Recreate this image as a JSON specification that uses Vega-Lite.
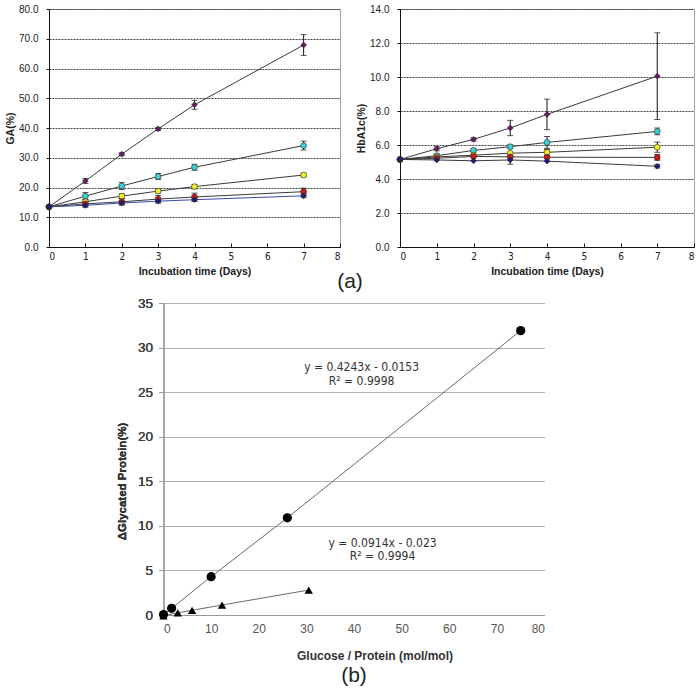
{
  "$schema": "https://vega.github.io/schema/vega-lite/v6.json",
  "padding": {"left": 5, "top": 3, "right": 0, "bottom": 0},
  "config": {
    "font": "Liberation Sans",
    "view": {"stroke": null},
    "style": {
      "tx": {"values": [0,1,2,3,4,5,6,7,8], "labelOverlap": false, "grid": false, "domainColor": "#111", "tickColor": "#111", "tickSize": -4, "labelPadding": 8, "labelFont": "DejaVu Sans Condensed, Liberation Sans", "labelFontSize": 10, "labelColor": "#222", "titleFontSize": 10.5, "titleFontWeight": "bold", "titleColor": "#222", "titlePadding": 5},
      "tyga": {"values": [0,10,20,30,40,50,60,70,80], "labelOverlap": false, "format": ".1f", "grid": true, "gridColor": "#444", "gridDash": [2, 1], "domainColor": "#111", "tickColor": "#111", "tickSize": 3, "labelPadding": 8, "labelFontSize": 10, "labelColor": "#222", "titleFontSize": 10.5, "titleFontWeight": "bold", "titleColor": "#222", "titlePadding": 3},
      "tyhb": {"values": [0,2,4,6,8,10,12,14], "labelOverlap": false, "format": ".1f", "grid": true, "gridColor": "#444", "gridDash": [2, 1], "domainColor": "#111", "tickColor": "#111", "tickSize": 3, "labelPadding": 8, "labelFontSize": 10, "labelColor": "#222", "titleFontSize": 10.5, "titleFontWeight": "bold", "titleColor": "#222", "titlePadding": 3},
      "bx": {"values": [0,10,20,30,40,50,60,70,80], "labelOverlap": false, "grid": false, "domainColor": "#9a9a9a", "ticks": false, "labelPadding": 8, "labelFontSize": 12, "labelColor": "#555", "titleFontSize": 12, "titleFontWeight": "bold", "titleColor": "#333", "titlePadding": 16, "titleX": 211},
      "by": {"values": [0,5,10,15,20,25,30,35], "labelOverlap": false, "grid": true, "gridColor": "#b4b4b4", "gridWidth": 1.2, "domainColor": "#9a9a9a", "tickColor": "#9a9a9a", "tickSize": 5, "labelPadding": 6, "labelFontSize": 13.5, "labelColor": "#444", "titleFontSize": 11.5, "titleFontWeight": "bold", "titleColor": "#333", "titlePadding": 10, "titleY": 178}
    }
  },
  "resolve": {"scale": {"color": "independent", "fill": "independent", "shape": "independent", "size": "independent"}},
  "datasets": {
    "ga": [
      {"day": 0, "s": "P", "v": 13.5}, {"day": 0, "s": "C", "v": 13.5}, {"day": 0, "s": "Y", "v": 13.5}, {"day": 0, "s": "R", "v": 13.5}, {"day": 0, "s": "B", "v": 13.5},
      {"day": 1, "s": "P", "v": 22.2, "lo": 21.4, "hi": 23.0}, {"day": 2, "s": "P", "v": 31.2, "lo": 30.7, "hi": 31.7}, {"day": 3, "s": "P", "v": 39.7, "lo": 39.2, "hi": 40.2}, {"day": 4, "s": "P", "v": 47.8, "lo": 46.3, "hi": 49.3}, {"day": 7, "s": "P", "v": 67.9, "lo": 64.4, "hi": 71.4},
      {"day": 1, "s": "C", "v": 17.1, "lo": 15.9, "hi": 18.3}, {"day": 2, "s": "C", "v": 20.5, "lo": 19.3, "hi": 21.7}, {"day": 3, "s": "C", "v": 23.7, "lo": 22.7, "hi": 24.7}, {"day": 4, "s": "C", "v": 26.8, "lo": 25.8, "hi": 27.8}, {"day": 7, "s": "C", "v": 34.1, "lo": 32.6, "hi": 35.6},
      {"day": 1, "s": "Y", "v": 15.2, "lo": 14.4, "hi": 16.0}, {"day": 2, "s": "Y", "v": 17.1, "lo": 16.3, "hi": 17.9}, {"day": 3, "s": "Y", "v": 18.8, "lo": 18.1, "hi": 19.5}, {"day": 4, "s": "Y", "v": 20.3, "lo": 19.6, "hi": 21.0}, {"day": 7, "s": "Y", "v": 24.2, "lo": 23.6, "hi": 24.8},
      {"day": 1, "s": "R", "v": 14.5, "lo": 13.5, "hi": 15.5}, {"day": 2, "s": "R", "v": 15.2, "lo": 14.1, "hi": 16.3}, {"day": 3, "s": "R", "v": 16.1, "lo": 14.9, "hi": 17.3}, {"day": 4, "s": "R", "v": 16.8, "lo": 15.5, "hi": 18.1}, {"day": 7, "s": "R", "v": 18.6, "lo": 17.4, "hi": 19.8},
      {"day": 1, "s": "B", "v": 14.0, "lo": 13.4, "hi": 14.6}, {"day": 2, "s": "B", "v": 14.8, "lo": 14.2, "hi": 15.4}, {"day": 3, "s": "B", "v": 15.4, "lo": 14.8, "hi": 16.0}, {"day": 4, "s": "B", "v": 15.9, "lo": 15.3, "hi": 16.5}, {"day": 7, "s": "B", "v": 17.2, "lo": 16.6, "hi": 17.8}
    ],
    "hb": [
      {"day": 0, "s": "P", "v": 5.15}, {"day": 0, "s": "C", "v": 5.15}, {"day": 0, "s": "Y", "v": 5.15}, {"day": 0, "s": "R", "v": 5.15}, {"day": 0, "s": "B", "v": 5.15},
      {"day": 1, "s": "P", "v": 5.78, "lo": 5.66, "hi": 5.9}, {"day": 2, "s": "P", "v": 6.33, "lo": 6.23, "hi": 6.43}, {"day": 3, "s": "P", "v": 7.0, "lo": 6.55, "hi": 7.45}, {"day": 4, "s": "P", "v": 7.8, "lo": 6.9, "hi": 8.7}, {"day": 7, "s": "P", "v": 10.05, "lo": 7.5, "hi": 12.6},
      {"day": 1, "s": "C", "v": 5.37, "lo": 5.27, "hi": 5.47}, {"day": 2, "s": "C", "v": 5.68, "lo": 5.58, "hi": 5.78}, {"day": 3, "s": "C", "v": 5.9, "lo": 5.8, "hi": 6.0}, {"day": 4, "s": "C", "v": 6.15, "lo": 5.8, "hi": 6.5}, {"day": 7, "s": "C", "v": 6.8, "lo": 6.6, "hi": 7.0},
      {"day": 1, "s": "Y", "v": 5.3}, {"day": 2, "s": "Y", "v": 5.4}, {"day": 3, "s": "Y", "v": 5.52}, {"day": 4, "s": "Y", "v": 5.57, "lo": 5.4, "hi": 5.74}, {"day": 7, "s": "Y", "v": 5.87, "lo": 5.57, "hi": 6.17},
      {"day": 1, "s": "R", "v": 5.22}, {"day": 2, "s": "R", "v": 5.33}, {"day": 3, "s": "R", "v": 5.3}, {"day": 4, "s": "R", "v": 5.28}, {"day": 7, "s": "R", "v": 5.27, "lo": 5.1, "hi": 5.44},
      {"day": 1, "s": "B", "v": 5.12}, {"day": 2, "s": "B", "v": 5.07}, {"day": 3, "s": "B", "v": 5.12, "lo": 4.87, "hi": 5.37}, {"day": 4, "s": "B", "v": 5.05}, {"day": 7, "s": "B", "v": 4.75, "lo": 4.65, "hi": 4.85}
    ],
    "bp": [
      {"x": 0, "y": 0.05, "k": "circle"}, {"x": 1.7, "y": 0.75, "k": "circle"}, {"x": 10, "y": 4.3, "k": "circle"}, {"x": 26, "y": 10.9, "k": "circle"}, {"x": 75, "y": 31.9, "k": "circle"},
      {"x": 0, "y": -0.1, "k": "triangle"}, {"x": 3, "y": 0.25, "k": "triangle"}, {"x": 6, "y": 0.53, "k": "triangle"}, {"x": 12.3, "y": 1.12, "k": "triangle"}, {"x": 30.5, "y": 2.8, "k": "triangle"}
    ],
    "eq": [
      {"x": 41.6, "y": 27.8, "t": "y = 0.4243x - 0.0153"},
      {"x": 41.6, "y": 26.3, "t": "R² = 0.9998"},
      {"x": 46.0, "y": 8.1, "t": "y = 0.0914x - 0.023"},
      {"x": 46.0, "y": 6.6, "t": "R² = 0.9994"}
    ]
  },
  "vconcat": [
    {
      "title": {"text": "(a)", "orient": "bottom", "anchor": "middle", "fontSize": 21, "fontWeight": "normal", "color": "#222", "offset": -6, "font": "Liberation Sans"},
      "spacing": 15,
      "hconcat": [
        {
          "width": 291, "height": 238,
          "view": {"stroke": "#a0a0a0", "strokeWidth": 1},
          "data": {"name": "ga"},
          "layer": [
            {
              "mark": {"type": "line", "strokeWidth": 1},
              "encoding": {
                "x": {"field": "day", "type": "quantitative", "title": "Incubation time (Days)", "scale": {"domain": [0, 8], "nice": false}, "axis": {"style": "tx"}},
                "y": {"field": "v", "type": "quantitative", "title": "GA(%)", "scale": {"domain": [0, 80], "nice": false}, "axis": {"style": "tyga"}},
                "color": {"field": "s", "type": "nominal", "legend": null, "scale": {"domain": ["P","C","Y","R","B"], "range": ["#3a3a3a","#3a3a3a","#3a3a3a","#3a3a3a","#3b48a8"]}}
              }
            },
            {
              "mark": {"type": "rule", "color": "#111", "strokeWidth": 1},
              "transform": [{"filter": "isValid(datum.lo)"}],
              "encoding": {
                "x": {"field": "day", "type": "quantitative", "title": "Incubation time (Days)", "axis": {"style": "tx"}},
                "y": {"field": "lo", "type": "quantitative", "title": "GA(%)", "axis": {"style": "tyga"}},
                "y2": {"field": "hi"}
              }
            },
            {
              "mark": {"type": "tick", "orient": "horizontal", "color": "#111", "thickness": 1, "size": 6},
              "transform": [{"filter": "isValid(datum.lo)"}, {"fold": ["lo", "hi"], "as": ["end", "ev"]}],
              "encoding": {
                "x": {"field": "day", "type": "quantitative", "title": "Incubation time (Days)", "axis": {"style": "tx"}},
                "y": {"field": "ev", "type": "quantitative", "title": "GA(%)", "axis": {"style": "tyga"}}
              }
            },
            {
              "mark": {"type": "point", "filled": true, "stroke": "#222", "strokeWidth": 0.6, "size": 34, "opacity": 1},
              "encoding": {
                "x": {"field": "day", "type": "quantitative", "title": "Incubation time (Days)", "axis": {"style": "tx"}},
                "y": {"field": "v", "type": "quantitative", "title": "GA(%)", "axis": {"style": "tyga"}},
                "fill": {"field": "s", "type": "nominal", "legend": null, "scale": {"domain": ["P","C","Y","R","B"], "range": ["#6b1a6b","#3fd0d6","#f4f02a","#cc1a1a","#1a1f7a"]}},
                "shape": {"field": "s", "type": "nominal", "legend": null, "scale": {"domain": ["P","C","Y","R","B"], "range": ["diamond","circle","circle","circle","diamond"]}}
              }
            }
          ]
        },
        {
          "width": 294, "height": 238,
          "view": {"stroke": "#a0a0a0", "strokeWidth": 1},
          "data": {"name": "hb"},
          "layer": [
            {
              "mark": {"type": "line", "strokeWidth": 1, "color": "#3a3a3a"},
              "encoding": {
                "x": {"field": "day", "type": "quantitative", "title": "Incubation time (Days)", "scale": {"domain": [0, 8], "nice": false}, "axis": {"style": "tx"}},
                "y": {"field": "v", "type": "quantitative", "title": "HbA1c(%)", "scale": {"domain": [0, 14], "nice": false}, "axis": {"style": "tyhb"}},
                "detail": {"field": "s", "type": "nominal"}
              }
            },
            {
              "mark": {"type": "rule", "color": "#111", "strokeWidth": 1},
              "transform": [{"filter": "isValid(datum.lo)"}],
              "encoding": {
                "x": {"field": "day", "type": "quantitative", "title": "Incubation time (Days)", "axis": {"style": "tx"}},
                "y": {"field": "lo", "type": "quantitative", "title": "HbA1c(%)", "axis": {"style": "tyhb"}},
                "y2": {"field": "hi"}
              }
            },
            {
              "mark": {"type": "tick", "orient": "horizontal", "color": "#111", "thickness": 1, "size": 6},
              "transform": [{"filter": "isValid(datum.lo)"}, {"fold": ["lo", "hi"], "as": ["end", "ev"]}],
              "encoding": {
                "x": {"field": "day", "type": "quantitative", "title": "Incubation time (Days)", "axis": {"style": "tx"}},
                "y": {"field": "ev", "type": "quantitative", "title": "HbA1c(%)", "axis": {"style": "tyhb"}}
              }
            },
            {
              "mark": {"type": "point", "filled": true, "stroke": "#222", "strokeWidth": 0.6, "size": 34, "opacity": 1},
              "encoding": {
                "x": {"field": "day", "type": "quantitative", "title": "Incubation time (Days)", "axis": {"style": "tx"}},
                "y": {"field": "v", "type": "quantitative", "title": "HbA1c(%)", "axis": {"style": "tyhb"}},
                "fill": {"field": "s", "type": "nominal", "legend": null, "scale": {"domain": ["P","C","Y","R","B"], "range": ["#6b1a6b","#3fd0d6","#f4f02a","#cc1a1a","#1a1f7a"]}},
                "shape": {"field": "s", "type": "nominal", "legend": null, "scale": {"domain": ["P","C","Y","R","B"], "range": ["diamond","circle","circle","circle","diamond"]}}
              }
            }
          ]
        }
      ]
    },
    {
      "width": 381, "height": 312,
      "title": {"text": "(b)", "orient": "bottom", "anchor": "middle", "fontSize": 21, "fontWeight": "normal", "color": "#222", "offset": 4, "font": "Liberation Sans"},
      "layer": [
        {
          "data": {"name": "bp"},
          "mark": {"type": "line", "color": "#6a6a6a", "strokeWidth": 1},
          "encoding": {
            "x": {"field": "x", "type": "quantitative", "title": "Glucose / Protein (mol/mol)", "scale": {"domain": [0, 80], "nice": false}, "axis": {"style": "bx"}},
            "y": {"field": "y", "type": "quantitative", "title": "ΔGlycated Protein(%)", "scale": {"domain": [0, 35], "nice": false}, "axis": {"style": "by", "orient": "left"}},
            "detail": {"field": "k", "type": "nominal"}
          }
        },
        {
          "data": {"name": "bp"},
          "transform": [{"filter": "datum.k === 'circle'"}],
          "mark": {"type": "circle", "color": "#000", "opacity": 1, "size": 85},
          "encoding": {
            "x": {"field": "x", "type": "quantitative", "title": "Glucose / Protein (mol/mol)", "axis": {"style": "bx"}},
            "y": {"field": "y", "type": "quantitative", "title": "ΔGlycated Protein(%)", "axis": {"style": "by", "orient": "left"}}
          }
        },
        {
          "data": {"name": "bp"},
          "transform": [{"filter": "datum.k === 'triangle'"}],
          "mark": {"type": "point", "shape": "triangle-up", "filled": true, "color": "#000", "opacity": 1, "size": 70},
          "encoding": {
            "x": {"field": "x", "type": "quantitative", "title": "Glucose / Protein (mol/mol)", "axis": {"style": "bx"}},
            "y": {"field": "y", "type": "quantitative", "title": "ΔGlycated Protein(%)", "axis": {"style": "by", "orient": "left"}}
          }
        },
        {
          "data": {"name": "eq"},
          "mark": {"type": "text", "fontSize": 12, "color": "#333", "font": "DejaVu Sans Condensed, Liberation Sans"},
          "encoding": {
            "x": {"field": "x", "type": "quantitative", "title": "Glucose / Protein (mol/mol)", "axis": {"style": "bx"}},
            "y": {"field": "y", "type": "quantitative", "axis": {"orient": "right", "labels": false, "ticks": false, "domain": false, "grid": false, "title": " ", "titlePadding": 25}},
            "text": {"field": "t"}
          }
        }
      ],
      "resolve": {"axis": {"y": "independent"}}
    }
  ],
  "spacing": 4,
  "center": true
}
